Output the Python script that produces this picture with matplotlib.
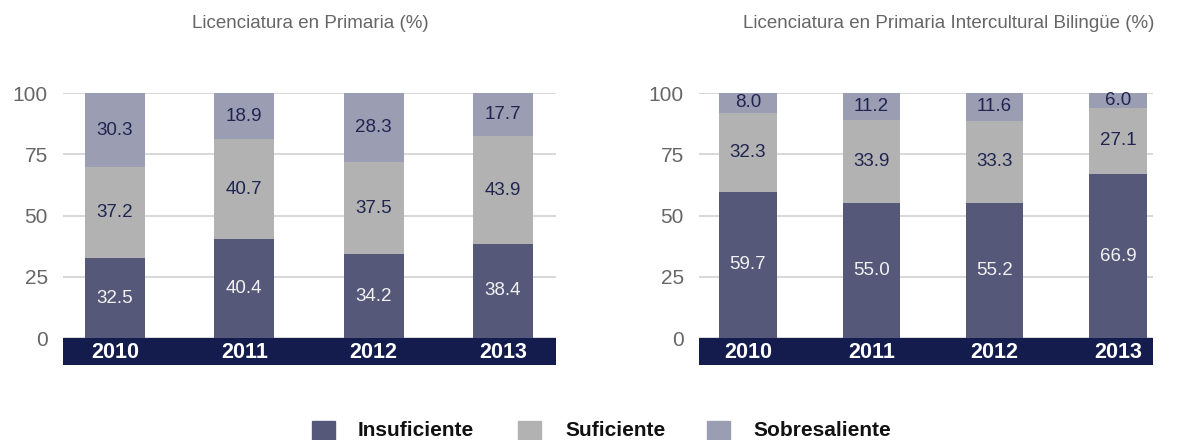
import numpy as np
import matplotlib
matplotlib.use("Agg")
import matplotlib.pyplot as plt

plt.rcParams['font.family'] = ['Liberation Sans', 'DejaVu Sans']

years = ['2010', '2011', '2012', '2013']
labels = ['Insuficiente', 'Suficiente', 'Sobresaliente']

# Licenciatura en Primaria
prim_insuf = [32.5, 40.4, 34.2, 38.4]
prim_suf = [37.2, 40.7, 37.5, 43.9]
prim_sobre = [30.3, 18.9, 28.3, 17.7]

# Licenciatura en Primaria Intercultural Bilingüe
bil_insuf = [59.7, 55.0, 55.2, 66.9]
bil_suf = [32.3, 33.9, 33.3, 27.1]
bil_sobre = [8.0, 11.2, 11.6, 6.0]

colors = ['#555878', '#b2b2b2', '#9b9db3']
text_colors = ['#f2f2f2', '#1f2550', '#1f2550']
band_color = '#141c4e'

W, H = 1179, 440
fig = plt.figure(figsize=(W / 100, H / 100), dpi=100)


def draw_panel(rect, series, xlim, title, title_x):
    ax = fig.add_axes(rect)
    x = np.arange(len(years))
    bottom = np.zeros(len(years))
    for vals, c, tc in zip(series, colors, text_colors):
        vals = np.array(vals)
        ax.bar(x, vals, bottom=bottom, width=0.465, color=c, zorder=2)
        for xi, b, v in zip(x, bottom, vals):
            ax.text(xi, b + v / 2, f'{v:.1f}', ha='center', va='center',
                    fontsize=13.5, color=tc, zorder=3)
        bottom += vals
    ax.set_xlim(*xlim)
    ax.set_ylim(-11, 100)
    ax.axhspan(-11, 0, color=band_color, zorder=4, lw=0)
    for xi, yr in zip(x, years):
        ax.text(xi, -5.8, yr, ha='center', va='center', fontsize=15.5,
                fontweight='bold', color='white', zorder=5)
    ax.set_yticks([0, 25, 50, 75, 100])
    ax.tick_params(axis='y', length=0, pad=11, labelsize=15, labelcolor='#666666')
    ax.set_xticks([])
    ax.grid(axis='y', color='#d6d6d6', lw=1.3, zorder=0)
    for s in ax.spines.values():
        s.set_visible(False)
    fig.text(title_x / W, 1 - 23 / H, title, ha='center', va='center',
             fontsize=13.5, color='#666666')
    return ax


draw_panel([63 / W, 75 / H, (556 - 63) / W, (365 - 93) / H],
           [prim_insuf, prim_suf, prim_sobre], (-0.402, 3.41),
           'Licenciatura en Primaria (%)', 310)
draw_panel([699 / W, 75 / H, (1153 - 699) / W, (365 - 93) / H],
           [bil_insuf, bil_suf, bil_sobre], (-0.397, 3.284),
           'Licenciatura en Primaria Intercultural Bilingüe (%)', 949)

# legend
sq_x = [312, 518, 707]
tx_x = [358, 565, 753]
for sx, tx, c, lab in zip(sq_x, tx_x, colors, labels):
    fig.patches.append(plt.Rectangle((sx / W, 0), 23 / W, 19 / H,
                                     transform=fig.transFigure, color=c))
    fig.text(tx / W, 1 - 430 / H, lab, ha='left', va='center',
             fontsize=15, fontweight='bold', color='#111111')

fig.savefig('out.png', dpi=100)
